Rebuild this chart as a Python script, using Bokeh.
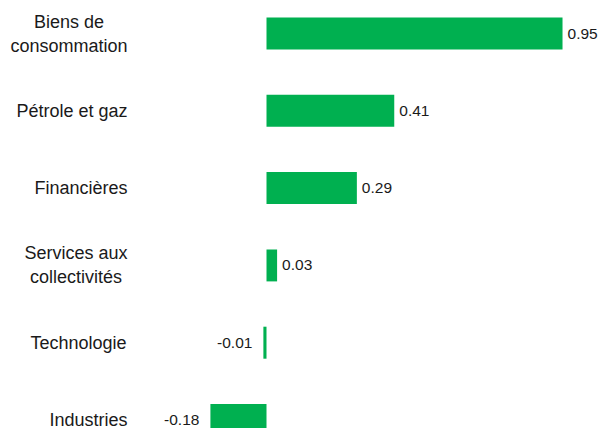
from bokeh.plotting import figure
from bokeh.models import ColumnDataSource, Range1d
from bokeh.core.properties import value
from bokeh.embed import file_html
from bokeh.resources import INLINE

# ---- data (top to bottom) ----
categories = ["Biens de\nconsommation", "Pétrole et gaz", "Financières",
              "Services aux\ncollectivités", "Technologie", "Industries"]
values = [0.95, 0.41, 0.29, 0.034, -0.01, -0.18]

# ---- layout ----
W, H = 602, 428
ppu = 311.6            # pixels per data unit on x
zero_px = 266          # frame px of x = 0
row_px = 77.3          # pixel pitch of rows
top_px = 33            # frame px of first row centre
x_start = -zero_px / ppu
x_end = (W - zero_px) / ppu
y_top = -top_px / row_px
y_bot = (H - top_px) / row_px

FONT = "Liberation Sans"
GREEN = "#00B050"
TXT = "#1a1a1a"
cat_fs = 18
val_fs = 15.5

p = figure(width=W, height=H, output_backend="svg", toolbar_location=None,
           x_range=Range1d(x_start, x_end), y_range=Range1d(y_bot, y_top),
           min_border=0, outline_line_color=None)
p.axis.visible = False
p.grid.visible = False
p.background_fill_color = "white"
p.border_fill_color = "white"

ys = list(range(len(categories)))
src = ColumnDataSource(dict(y=ys, v=values))
p.hbar(y="y", left=0, right="v", height=0.414, source=src,
       fill_color=GREEN, line_color=None)

# value labels
vtxt = [f"{v:.2f}" for v in values]
valign = ["left" if v >= 0 else "right" for v in values]
voff = [5 if v >= 0 else -11 for v in values]
vsrc = ColumnDataSource(dict(x=values, y=ys, t=vtxt, a=valign, o=voff))
p.text(x="x", y="y", text="t", source=vsrc, text_align="a", x_offset="o",
       text_baseline="middle", text_font=value(FONT),
       text_font_size=f"{val_fs}px", text_color=TXT)

# category labels: block right-aligned, lines centred
widths = {'B': 667, 'i': 222, 'e': 556, 'n': 556, 's': 500, ' ': 278, 'd': 556,
          'c': 500, 'o': 556, 'm': 833, 'a': 556, 't': 278, 'P': 667, 'é': 556,
          'r': 333, 'l': 222, 'g': 556, 'z': 500, 'F': 611, 'è': 556, 'S': 667,
          'v': 500, 'u': 556, 'x': 500, 'T': 611, 'h': 556, 'I': 278, 'y': 500}
def tw(s):
    return sum(widths.get(ch, 556) for ch in s) * cat_fs / 1000.0

right_px = 127
cat_x = x_start + right_px / ppu
coffs = [-max(tw(l) for l in c.split("\n")) / 2.0 for c in categories]
csrc = ColumnDataSource(dict(x=[cat_x] * len(categories), y=ys, t=categories, o=coffs))
p.text(x="x", y="y", text="t", source=csrc, x_offset="o", text_align="center",
       text_baseline="middle", text_font=value(FONT), text_font_size=f"{cat_fs}px",
       text_color=TXT, text_line_height=1.2)

open("out.html", "w").write(file_html(p, INLINE))
